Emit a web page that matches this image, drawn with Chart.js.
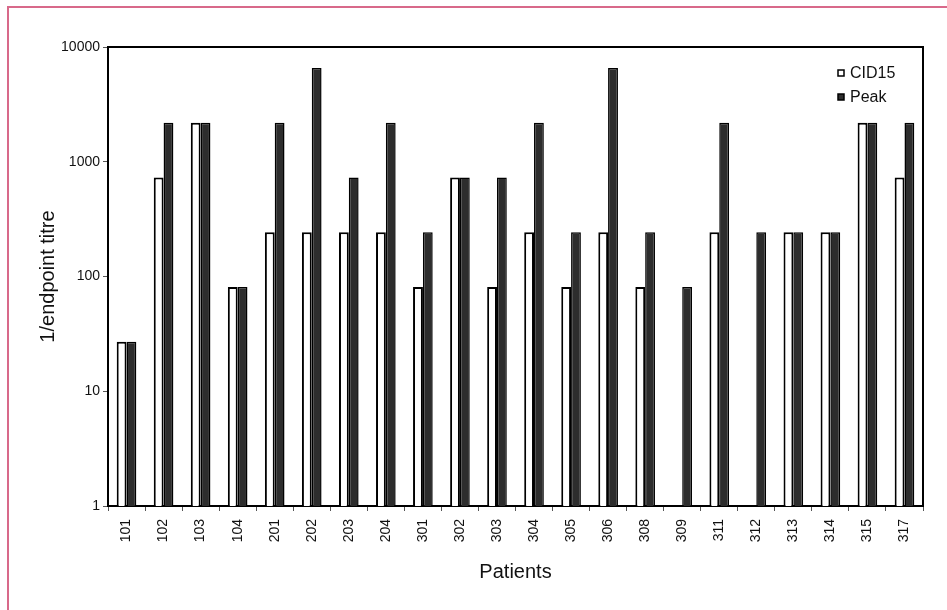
<!DOCTYPE html>
<html>
<head>
<meta charset="utf-8">
<script src="https://cdn.jsdelivr.net/npm/chart.js@4/dist/chart.umd.min.js"></script>
<style>
  html, body { margin: 0; padding: 0; background: #fff; }
  #wrap { width: 947px; height: 610px; position: relative; }
</style>
</head>
<body>
<div id="wrap"><canvas id="titreChart" width="947" height="610"></canvas></div>
<script>
const patients = ['101', '102', '103', '104', '201', '202', '203', '204', '301', '302', '303',
                  '304', '305', '306', '308', '309', '311', '312', '313', '314', '315', '317'];
// titres in 3-fold dilutions (27, 81, 243, 729, 2187, 6561); null = no bar
const cid15 = [27, 729, 2187, 81, 243, 243, 243, 243, 81, 729, 81,
               243, 81, 243, 81, null, 243, null, 243, 243, 2187, 729];
const peak = [27, 2187, 2187, 81, 2187, 6561, 729, 2187, 243, 729, 729,
              2187, 243, 6561, 243, 81, 2187, 243, 243, 243, 2187, 2187];
const yTicks = [1, 10, 100, 1000, 10000];

const FONT = '"Liberation Sans", Arial, sans-serif';
const INK = '#111';

// pink frame on the page + box round the plot + legend inside plot
const decorations = {
    id: 'decorations',
    beforeDraw(chart) {
        const ctx = chart.ctx;
        ctx.save();
        ctx.strokeStyle = '#d8698a';
        ctx.lineWidth = 2;
        ctx.beginPath();
        ctx.moveTo(8, 610);
        ctx.lineTo(8, 7);
        ctx.lineTo(947, 7);
        ctx.stroke();
        ctx.restore();
    },
    afterDraw(chart) {
        const { ctx, chartArea } = chart;
        ctx.save();
        ctx.strokeStyle = '#000';
        ctx.lineWidth = 2;
        ctx.beginPath();
        ctx.moveTo(chartArea.left, chartArea.top);
        ctx.lineTo(chartArea.right, chartArea.top);
        ctx.lineTo(chartArea.right, chartArea.bottom);
        ctx.stroke();

        // legend
        ctx.font = '16px ' + FONT;
        ctx.textBaseline = 'middle';
        chart.data.datasets.forEach((ds, i) => {
            const y = 73 + i * 24;
            ctx.fillStyle = ds.backgroundColor;
            ctx.fillRect(838, y - 3, 6, 6);
            ctx.strokeStyle = '#000';
            ctx.lineWidth = 1.5;
            ctx.strokeRect(838, y - 3, 6, 6);
            ctx.fillStyle = INK;
            ctx.fillText(ds.label, 850, y + 1);
        });
        ctx.restore();
    }
};

new Chart(document.getElementById('titreChart'), {
    type: 'bar',
    data: {
        labels: patients,
        datasets: [
            {
                label: 'CID15',
                data: cid15,
                backgroundColor: '#ffffff',
                borderColor: '#000',
                borderWidth: 2,
                categoryPercentage: 0.53,
                barPercentage: 1.0
            },
            {
                label: 'Peak',
                data: peak,
                backgroundColor: '#2d2d2d',
                borderColor: '#000',
                borderWidth: 1.5,
                categoryPercentage: 0.53,
                barPercentage: 1.0
            }
        ]
    },
    options: {
        responsive: false,
        animation: false,
        layout: { padding: { top: 47, right: 24, left: 0, bottom: 0 } },
        plugins: {
            legend: { display: false },
            tooltip: { enabled: false }
        },
        scales: {
            x: {
                offset: true,
                grid: { offset: true, drawOnChartArea: false, tickLength: 5, color: '#555', tickWidth: 1 },
                border: { color: '#000', width: 2 },
                ticks: {
                    autoSkip: false, minRotation: 90, maxRotation: 90, padding: 8,
                    color: INK, font: { family: FONT, size: 14 }
                },
                title: {
                    display: true, text: 'Patients', color: INK,
                    font: { family: FONT, size: 20 },
                    padding: { top: 0, bottom: 26 }
                },
                afterFit(scale) { scale.height = 104; }
            },
            y: {
                type: 'logarithmic',
                min: 1,
                max: 10000,
                grid: { drawOnChartArea: false, tickLength: 5, color: '#555' },
                border: { color: '#000', width: 2 },
                afterBuildTicks(scale) { scale.ticks = yTicks.map(v => ({ value: v })); },
                ticks: {
                    padding: 3, color: INK, font: { family: FONT, size: 14 },
                    callback: v => String(v)
                },
                title: {
                    display: true, text: '1/endpoint titre', color: INK,
                    font: { family: FONT, size: 20 },
                    padding: { top: 36, bottom: 0 }
                },
                afterFit(scale) { scale.width = 108; }
            }
        }
    },
    plugins: [decorations]
});
</script>
</body>
</html>
